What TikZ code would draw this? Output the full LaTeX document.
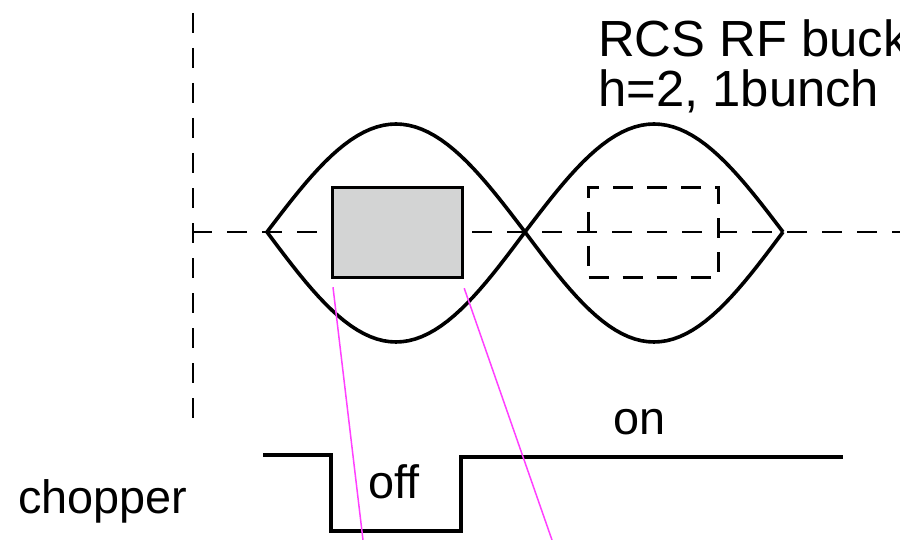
\documentclass[tikz,border=0pt]{standalone}
\usepackage{fontspec}
\setmainfont{Liberation Sans}
\definecolor{rcsGray}{RGB}{211,212,212}
\definecolor{rcsMagenta}{RGB}{255,64,255}
\usetikzlibrary{positioning}

\begin{document}
\begin{tikzpicture}[x=1bp, y=-1bp,
  axis/.style={line width=2.8bp, dash pattern=on 20bp off 15bp},
  bucket/.style={line width=3.6bp, line join=round},
  box/.style={line width=3.2bp, inner sep=0pt, anchor=north west,
    minimum width=130bp, minimum height=90bp},
  chop/.style={line width=3.2bp},
  label/.style={font=\fontsize{47}{56}\selectfont, inner sep=0pt, anchor=base west},
  title/.style={label, font=\fontsize{51}{60}\selectfont},
  trace/.style={rcsMagenta, line width=1.5bp}]
  \useasboundingbox (0,0) rectangle (900,540);
  % axes
  \draw[axis] (193,13) -- (193,425);
  \draw[axis] (192,232) -- (900,232);
  % the two buckets
  \foreach \xc in {396,654}{
    \draw[bucket] plot[domain=-90:90, samples=41] ({\xc+129*\x/90},{232-108*cos(\x)});
    \draw[bucket] plot[domain=-90:90, samples=41] ({\xc+129*\x/90},{232+110*cos(\x)});
  }
  \node[box, draw, fill=rcsGray] (bunch) at (331,186) {};
  \node[box, draw, dash pattern=on 20bp off 14bp] (empty) at (587,186) {};
  \node[title] (rcs) at (598,57) {RCS RF buck};
  \node[title] (harm) at (598,107) {h=2, 1bunch};
  % chopper signal
  \draw[chop] (263,455) -- (331,455) -- (331,531) -- (461,531) -- (461,457) -- (843,457);
  \node[label] (off) at (368,498) {off};
  \node[label] (on) at (613,434) {on};
  \node[label] (chopper) at (18,513) {chopper};
  \coordinate (t1) at (363,540);
  \coordinate (t2) at (552,540);
  \draw[trace] ([shift={(2,8)}]bunch.south west) -- (t1);
  \draw[trace] ([shift={(0,9)}]bunch.south east) -- (t2);
\end{tikzpicture}
\end{document}
